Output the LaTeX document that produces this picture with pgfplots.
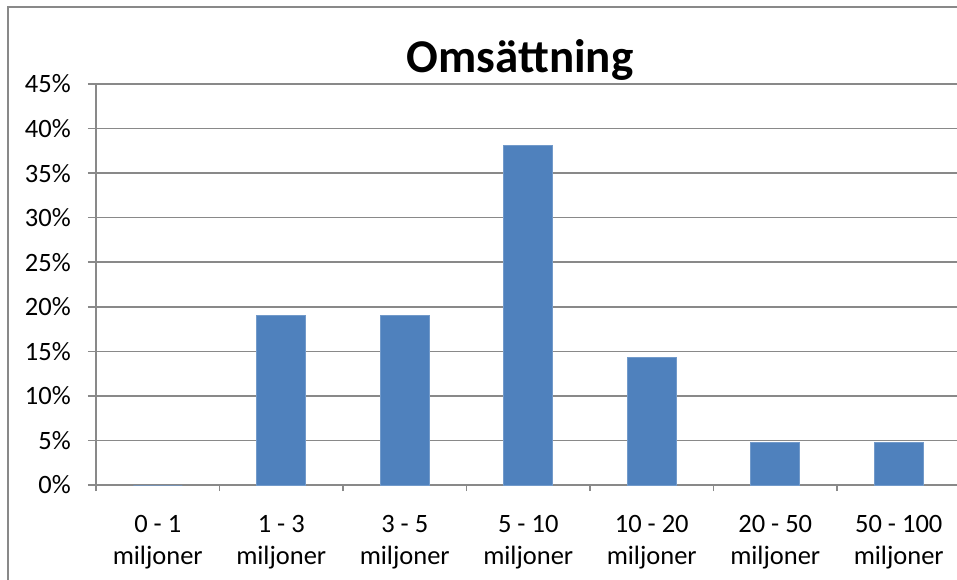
\documentclass[border=0pt]{standalone}
\usepackage{pgfplots}
\pgfplotsset{compat=1.18}
\usepackage{fontspec}
\setmainfont{Carlito}
\definecolor{barblue}{HTML}{4F81BD}
\definecolor{gridgray}{HTML}{898989}
\begin{document}
\begin{tikzpicture}[x=1pt,y=1pt]
\useasboundingbox (0,0) rectangle (957,579);
\draw[gridgray, line width=2pt] (8,-20) -- (8,572) -- (980,572);
\node[anchor=base, font=\fontsize{47}{55}\selectfont\bfseries] at (520,506) {Omsättning};
\begin{axis}[
  at={(96pt,94pt)}, anchor=south west,
  scale only axis, width=864.5pt, height=401pt,
  ybar, bar width=49pt,
  xmin=-0.5, xmax=6.5, ymin=0, ymax=45,
  ytick={0,5,...,45},
  yticklabel={\pgfmathprintnumber{\tick}\%},
  xtick={0,...,6},
  xticklabels={{0 - 1\\miljoner},{1 - 3\\miljoner},{3 - 5\\miljoner},{5 - 10\\miljoner},{10 - 20\\miljoner},{20 - 50\\miljoner},{50 - 100\\miljoner}},
  minor xtick={-0.5,0.5,...,6.5},
  axis x line*=bottom, axis y line*=left,
  axis line style={gridgray, line width=1.6pt, -},
  ymajorgrids, grid style={gridgray, line width=1.6pt},
  tick align=outside,
  major tick length=8pt, minor tick length=6pt,
  major x tick style={draw=none},
  minor x tick style={gridgray, line width=1.6pt},
  ytick style={gridgray, line width=1.6pt},
  tick label style={font=\fontsize{26.5}{32}\selectfont},
  /pgf/number format/assume math mode=true,
  yticklabel style={inner sep=0pt, xshift=-17pt},
  xticklabel style={align=center, inner sep=0pt, yshift=-22pt},
]
\addplot[fill=barblue, draw=barblue!80!white, line width=0.8pt] coordinates {
(0,0) (1,19.05) (2,19.05) (3,38.10) (4,14.29) (5,4.76) (6,4.76)};
\end{axis}
\end{tikzpicture}
\end{document}
